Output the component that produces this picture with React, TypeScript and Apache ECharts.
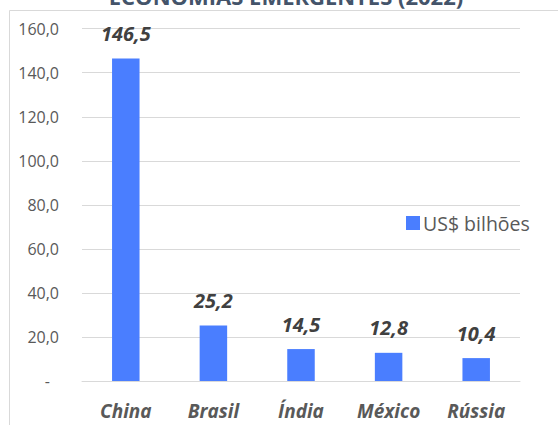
import React, { useEffect, useRef } from "react";
import * as echarts from "echarts";

const categories = ["China", "Brasil", "Índia", "México", "Rússia"];
const values = [146.5, 25.2, 14.5, 12.8, 10.4];
const seriesName = "US$ bilhões";
const titleText = "ECONOMIAS EMERGENTES (2022)";
const yTicks = { min: 0, max: 160, interval: 20 };

const FONT = "'Open Sans', Lato, sans-serif";
const fmt = (v: number) => v.toFixed(1).replace(".", ",");

export default function App() {
  const ref = useRef<HTMLDivElement>(null);

  useEffect(() => {
    if (!ref.current) return;
    const chart = echarts.init(ref.current, undefined, { renderer: "svg" });
    chart.setOption({
      animation: false,
      backgroundColor: "#ffffff",
      textStyle: { fontFamily: FONT },
      grid: { left: 82, right: 38, top: 28.7, bottom: 44, containLabel: false },
      graphic: [
        {
          type: "rect",
          shape: { x: 9.5, y: 10.5, width: 700, height: 600 },
          style: { fill: "none", stroke: "#d9d9d9", lineWidth: 1 },
          z: -1,
        },
        {
          type: "text",
          x: 286,
          y: 7,
          style: {
            text: titleText,
            fontFamily: FONT,
            fontSize: 22,
            fontWeight: "bold",
            fill: "#44546a",
            textAlign: "center",
            textVerticalAlign: "bottom",
          },
        },
      ],
      legend: {
        show: true,
        orient: "vertical",
        left: 401,
        top: 208,
        itemWidth: 14,
        itemHeight: 14,
        itemGap: 4,
        icon: "rect",
        textStyle: { fontFamily: FONT, fontSize: 19.5, color: "#595959", padding: [0, 0, 0, -2] },
        data: [seriesName],
      },
      xAxis: {
        type: "category",
        data: categories,
        axisLine: { lineStyle: { color: "#d9d9d9", width: 1 } },
        axisTick: { show: false },
        axisLabel: {
          margin: 20,
          fontFamily: FONT,
          fontSize: 19,
          fontWeight: "bold",
          fontStyle: "italic",
          color: "#595959",
        },
      },
      yAxis: {
        type: "value",
        min: yTicks.min,
        max: yTicks.max,
        interval: yTicks.interval,
        axisLine: { show: false },
        axisTick: { show: false },
        splitLine: { lineStyle: { color: "#d9d9d9", width: 1 } },
        axisLabel: {
          margin: 23,
          fontFamily: FONT,
          fontSize: 16,
          color: "#595959",
          formatter: (v: number) => (v === 0 ? "{dash|-}" : fmt(v)),
          rich: { dash: { fontFamily: FONT, fontSize: 16, color: "#595959", padding: [0, 9, 0, 0] } },
        },
      },
      series: [
        {
          name: seriesName,
          type: "bar",
          data: values,
          barWidth: 27.5,
          itemStyle: { color: "#4a7eff" },
          label: {
            show: true,
            position: "top",
            distance: 15,
            formatter: (p: any) => fmt(p.value),
            fontFamily: FONT,
            fontSize: 20,
            fontWeight: "bold",
            fontStyle: "italic",
            color: "#404040",
          },
        },
      ],
    });
    return () => chart.dispose();
  }, []);

  return (
    <div
      ref={ref}
      style={{ position: "absolute", left: 0, top: 0, width: 558, height: 425 }}
    />
  );
}
